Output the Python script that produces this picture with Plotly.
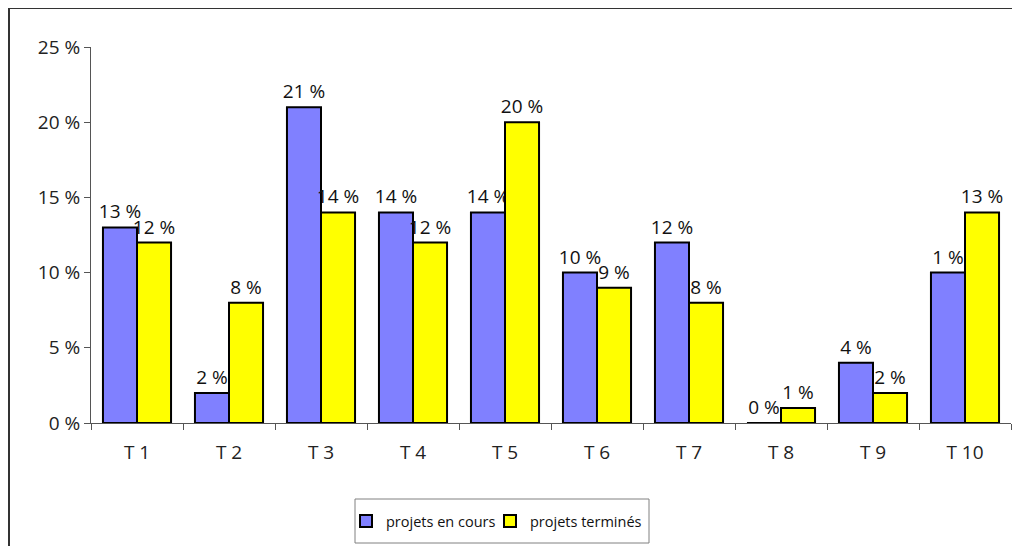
import plotly.graph_objects as go

categories = ["T 1", "T 2", "T 3", "T 4", "T 5", "T 6", "T 7", "T 8", "T 9", "T 10"]
en_cours = [13, 2, 21, 14, 14, 10, 12, 0, 4, 10]
termines = [12, 8, 14, 12, 20, 9, 8, 1, 2, 14]
# labels as printed on the original chart (they do not always match the bars)
en_cours_labels = ["13 %", "2 %", "21 %", "14 %", "14 %", "10 %", "12 %", "0 %", "4 %", "1 %"]
termines_labels = ["12 %", "8 %", "14 %", "12 %", "20 %", "9 %", "8 %", "1 %", "2 %", "13 %"]
y_ticks = [0, 5, 10, 15, 20, 25]
y_tick_text = ["0 %", "5 %", "10 %", "15 %", "20 %", "25 %"]

FONT = "Open Sans"
OFF = 8  # page body margin
W, H = 1020 - OFF, 546 - OFF
L, R, T, B = 83, 9, 39, 123
PW, PH = W - L - R, H - T - B


def px_x(px):
    return (px - OFF - L) / PW


def px_y(py):
    return (H - B - (py - OFF)) / PH


fig = go.Figure()
for name, vals, labels, color, leg in [
    ("projets en cours", en_cours, en_cours_labels, "#8080FF", "legend"),
    ("projets terminés", termines, termines_labels, "#FFFF00", "legend2"),
]:
    fig.add_trace(go.Bar(
        x=categories, y=vals, name=name, legend=leg, showlegend=True,
        text=labels, textposition="outside", constraintext="none",
        textfont=dict(size=19, color="#111111", family=FONT),
        marker=dict(color=color, line=dict(color="#000000", width=2)),
        cliponaxis=False,
    ))

# outer frame of the original chart area (cut by the image edge)
fig.add_shape(
    type="rect", xref="paper", yref="paper",
    x0=px_x(9), x1=px_x(1040), y0=px_y(560), y1=px_y(8),
    line=dict(color="#333333", width=2), fillcolor="rgba(0,0,0,0)",
)
# legend box
fig.add_shape(
    type="rect", xref="paper", yref="paper",
    x0=px_x(355), x1=px_x(649), y0=px_y(543), y1=px_y(499),
    line=dict(color="#808080", width=1), fillcolor="white", layer="below",
)

fig.update_xaxes(
    type="category", tickson="boundaries", ticks="outside", ticklen=6,
    tickcolor="#555555", showline=True, linecolor="#555555", linewidth=1,
    tickfont=dict(size=19, color="#222222", family=FONT),
    ticklabelstandoff=12,
    showgrid=False, zeroline=False,
)
fig.update_yaxes(
    range=[0, 25], tickvals=y_ticks, ticktext=y_tick_text,
    ticks="outside", ticklen=6, tickcolor="#555555",
    showline=True, linecolor="#555555", linewidth=1,
    tickfont=dict(size=19, color="#222222", family=FONT),
    showgrid=False, zeroline=False,
)
legend_style = dict(
    orientation="h", xanchor="left", yanchor="middle",
    bgcolor="rgba(0,0,0,0)", borderwidth=0,
    font=dict(size=14.5, color="#111111", family=FONT),
    itemclick=False,
)
fig.update_layout(
    width=W, height=H,
    margin=dict(l=L, r=R, t=T, b=B, pad=0),
    paper_bgcolor="white", plot_bgcolor="white",
    barmode="group", bargap=0.26, bargroupgap=0,
    font=dict(family=FONT, color="#222222"),
    showlegend=True,
    legend=dict(x=px_x(346), y=px_y(521), **legend_style),
    legend2=dict(x=px_x(490), y=px_y(521), **legend_style),
)

fig.write_html("out.html")
